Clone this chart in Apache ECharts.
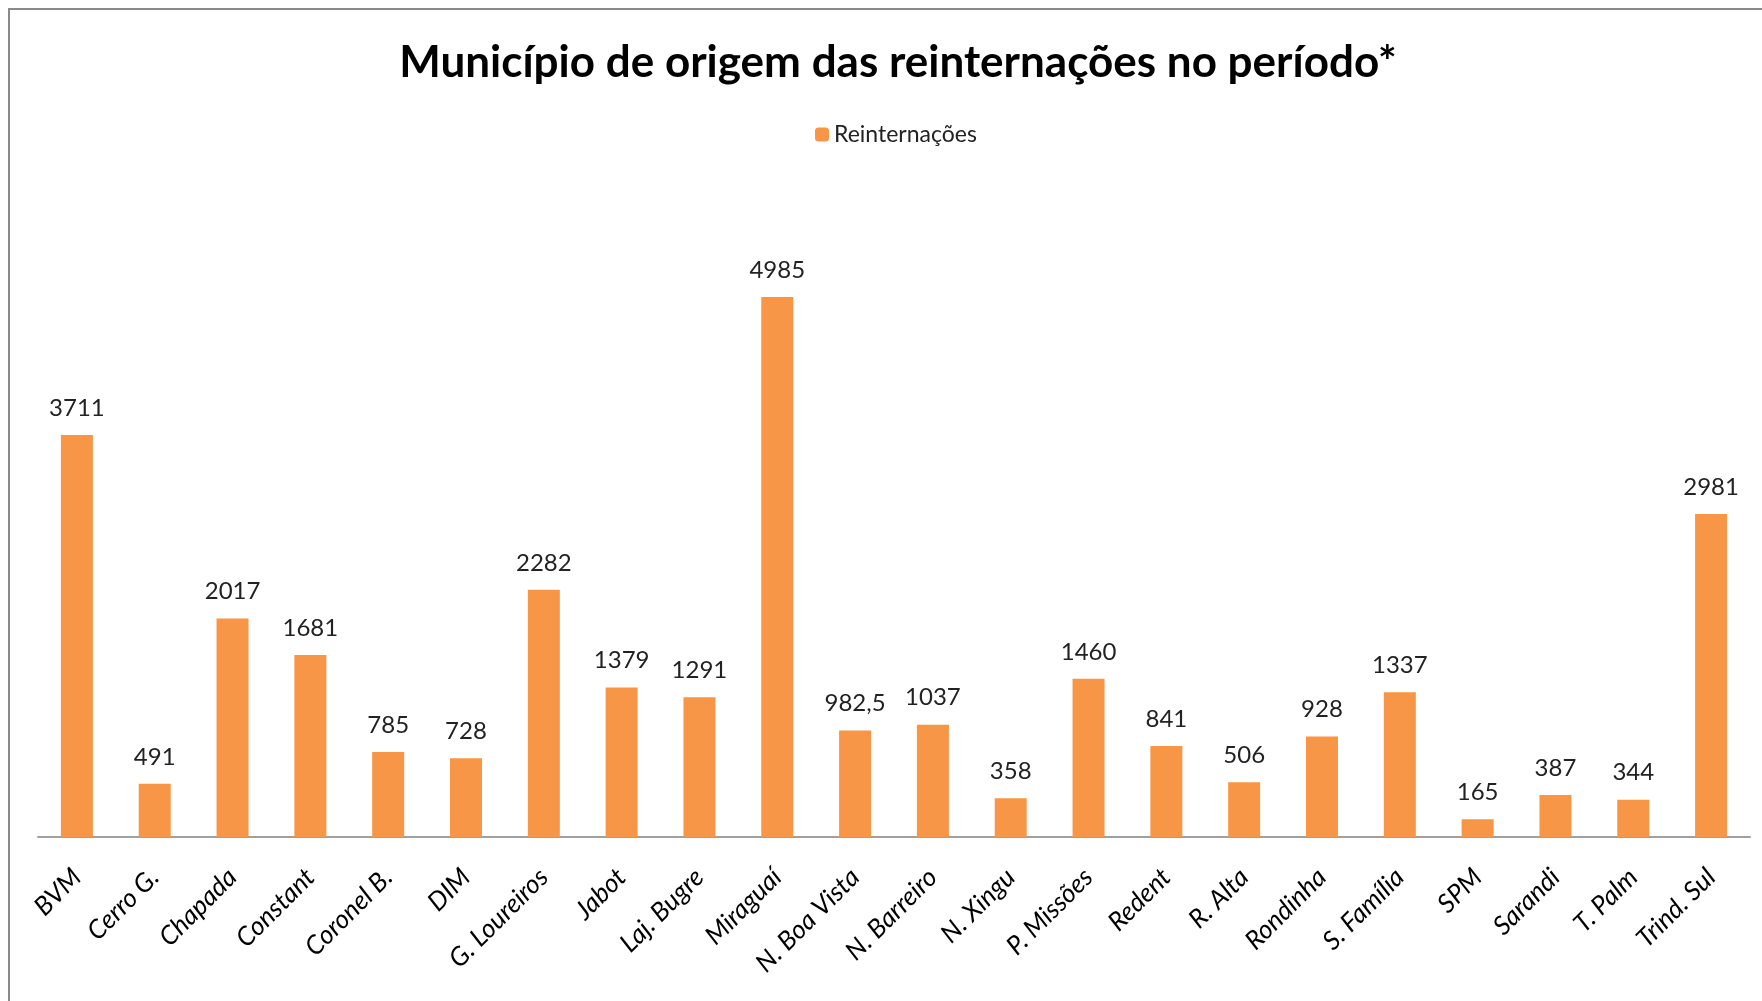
<!DOCTYPE html>
<html>
<head>
<meta charset="utf-8">
<script src="https://cdn.jsdelivr.net/npm/echarts@6/dist/echarts.min.js"></script>
<style>
  html, body { margin: 0; padding: 0; background: #fff; }
  #chart { width: 1762px; height: 1001px; }
</style>
</head>
<body>
<div id="chart"></div>
<script>
// dados do gráfico
var municipios = ['BVM', 'Cerro G.', 'Chapada', 'Constant', 'Coronel B.', 'DIM', 'G. Loureiros', 'Jabot', 'Laj. Bugre', 'Miraguaí', 'N. Boa Vista', 'N. Barreiro', 'N. Xingu', 'P. Missões', 'Redent', 'R. Alta', 'Rondinha', 'S. Família', 'SPM', 'Sarandi', 'T. Palm', 'Trind. Sul'];
var reinternacoes = [3711, 491, 2017, 1681, 785, 728, 2282, 1379, 1291, 4985, 982.5, 1037, 358, 1460, 841, 506, 928, 1337, 165, 387, 344, 2981];
var serieNome = 'Reinternações';
var titulo = 'Município de origem das reinternações no período*';

var myChart = echarts.init(document.getElementById('chart'));
var option = {
    backgroundColor: '#fff',
    animation: false,
    graphic: [
        {
            type: 'rect',
            shape: { x: 9, y: 9, width: 1800, height: 1100 },
            style: { fill: 'none', stroke: '#8a8a8a', lineWidth: 2 }
        }
    ],
    title: {
        text: titulo,
        left: 893,
        textAlign: 'center',
        top: 36,
        textStyle: {
            fontFamily: 'Lato',
            fontWeight: 'bold',
            fontSize: 44,
            color: '#000'
        }
    },
    legend: {
        data: [serieNome],
        left: 810,
        top: 118,
        itemWidth: 14,
        itemHeight: 14,
        itemGap: 6,
        textStyle: { fontFamily: 'Lato', fontSize: 23, color: '#222' }
    },
    grid: {
        left: 38,
        right: 12,
        top: 187,
        bottom: 164
    },
    xAxis: {
        type: 'category',
        data: municipios,
        axisLine: { lineStyle: { color: '#a0a0a0', width: 2 } },
        axisTick: { show: false },
        axisLabel: {
            rotate: 45,
            interval: 0,
            margin: 36,
            fontFamily: 'Lato',
            fontStyle: 'italic',
            fontSize: 26,
            color: '#000'
        }
    },
    yAxis: {
        type: 'value',
        min: 0,
        max: 6000,
        show: false,
        splitLine: { show: false }
    },
    series: [
        {
            name: serieNome,
            type: 'bar',
            data: reinternacoes,
            barWidth: 32,
            itemStyle: { color: '#F79646' },
            label: {
                show: true,
                position: 'top',
                distance: 15,
                fontFamily: 'Lato',
                fontSize: 24,
                color: '#222',
                formatter: function (p) { return String(p.value).replace('.', ','); }
            }
        }
    ]
};
myChart.setOption(option);
</script>
</body>
</html>
